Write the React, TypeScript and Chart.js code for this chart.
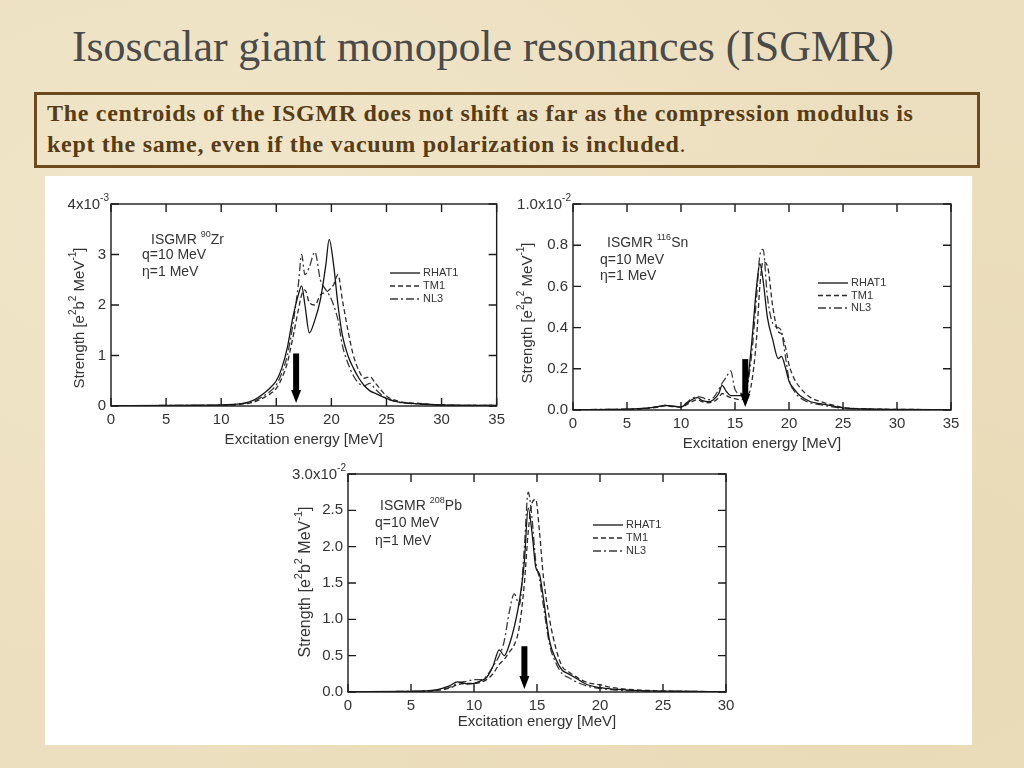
import React, { useEffect, useRef } from 'react';
import { Chart, registerables } from 'chart.js';

Chart.register(...registerables);

// ---------- Data ----------
const seriesNames = ['RHAT1', 'TM1', 'NL3'];

// 90Zr, strength in units of 1e-3
const zrEnergy = [0, 5, 8, 10, 11, 12, 13, 14, 14.5, 15, 15.5, 16, 16.5, 17, 17.3, 17.6, 18, 18.5, 19, 19.5, 19.8, 20.2, 20.6, 21, 21.5, 22, 22.5, 23, 23.5, 24, 25, 26, 28, 30, 35];
const zrRHAT1 = [0.005, 0.01, 0.015, 0.02, 0.03, 0.05, 0.12, 0.27, 0.37, 0.5, 0.75, 1.15, 1.75, 2.2, 2.38, 2.0, 1.45, 1.7, 2.1, 2.8, 3.3, 2.8, 2.0, 1.4, 1.0, 0.75, 0.55, 0.4, 0.3, 0.25, 0.15, 0.08, 0.04, 0.02, 0.01];
const zrTM1 = [0.005, 0.008, 0.01, 0.015, 0.02, 0.04, 0.08, 0.18, 0.25, 0.35, 0.55, 0.85, 1.35, 1.9, 2.2, 2.3, 2.05, 2.0, 2.2, 2.25, 2.3, 2.4, 2.6, 2.1, 1.5, 1.0, 0.7, 0.55, 0.58, 0.45, 0.2, 0.1, 0.05, 0.02, 0.01];
const zrNL3 = [0.005, 0.01, 0.012, 0.02, 0.03, 0.05, 0.1, 0.22, 0.3, 0.42, 0.65, 1.0, 1.6, 2.4, 3.0, 2.6, 2.75, 3.05, 2.5, 2.3, 2.2, 2.0, 1.7, 1.2, 0.85, 0.6, 0.45, 0.4, 0.45, 0.33, 0.15, 0.08, 0.04, 0.02, 0.01];
const zrXTickStep = 5;
const zrYTickStep = 1;

// 116Sn, strength in units of 1e-2
const snEnergy = [0, 5, 7, 8, 8.5, 9, 10, 10.5, 11, 11.5, 12, 12.5, 13, 13.5, 13.8, 14.2, 14.6, 15, 15.5, 16, 16.5, 17, 17.3, 17.6, 18, 18.5, 19, 19.3, 19.7, 20, 20.5, 21, 22, 23, 24, 25, 27, 30, 35];
const snRHAT1 = [0.002, 0.004, 0.01, 0.018, 0.022, 0.02, 0.015, 0.03, 0.05, 0.06, 0.045, 0.04, 0.05, 0.08, 0.12, 0.09, 0.07, 0.07, 0.07, 0.09, 0.3, 0.6, 0.71, 0.63, 0.45, 0.34, 0.25, 0.26, 0.2, 0.14, 0.1, 0.07, 0.04, 0.03, 0.02, 0.01, 0.005, 0.003, 0.002];
const snTM1 = [0.002, 0.003, 0.008, 0.015, 0.02, 0.018, 0.014, 0.025, 0.04, 0.05, 0.04, 0.035, 0.04, 0.06, 0.08, 0.07, 0.06, 0.055, 0.05, 0.06, 0.12, 0.35, 0.6, 0.72, 0.7, 0.5, 0.38, 0.37, 0.3, 0.22, 0.15, 0.11, 0.06, 0.04, 0.025, 0.012, 0.006, 0.003, 0.002];
const snNL3 = [0.002, 0.004, 0.01, 0.018, 0.022, 0.02, 0.016, 0.035, 0.055, 0.065, 0.06, 0.05, 0.06, 0.1, 0.13, 0.16, 0.19, 0.1, 0.08, 0.09, 0.25, 0.55, 0.75, 0.78, 0.55, 0.42, 0.4, 0.38, 0.25, 0.15, 0.09, 0.06, 0.035, 0.025, 0.015, 0.008, 0.004, 0.002, 0.002];
const snXTickStep = 5;
const snYTickStep = 0.2;

// 208Pb, strength in units of 1e-2
const pbEnergy = [0, 4, 6, 7, 8, 8.7, 9.5, 10, 10.5, 11, 11.5, 12, 12.4, 12.8, 13.2, 13.6, 14, 14.3, 14.6, 14.9, 15.2, 15.5, 16, 16.5, 17, 17.5, 18, 19, 20, 21, 22, 24, 26, 30];
const pbRHAT1 = [0.005, 0.008, 0.015, 0.03, 0.08, 0.14, 0.11, 0.12, 0.15, 0.2, 0.35, 0.58, 0.5, 0.65, 0.9, 1.25, 1.8, 2.53, 2.2, 1.72, 1.62, 1.3, 0.7, 0.45, 0.3, 0.25, 0.2, 0.1, 0.06, 0.04, 0.03, 0.015, 0.01, 0.005];
const pbTM1 = [0.004, 0.006, 0.01, 0.02, 0.05, 0.1, 0.12, 0.12, 0.13, 0.17, 0.25, 0.38, 0.45, 0.55, 0.65, 0.9, 1.5, 2.2, 2.6, 2.65, 2.2, 1.6, 1.0, 0.6, 0.35, 0.28, 0.22, 0.13, 0.1, 0.06, 0.04, 0.02, 0.01, 0.005];
const pbNL3 = [0.004, 0.007, 0.012, 0.025, 0.06, 0.12, 0.15, 0.17, 0.17, 0.22, 0.35, 0.5, 0.7, 1.1, 1.35, 1.2, 2.0, 2.75, 2.4, 1.8, 1.55, 1.2, 0.65, 0.4, 0.25, 0.2, 0.15, 0.08, 0.05, 0.03, 0.02, 0.01, 0.008, 0.004];
const pbXTickStep = 5;
const pbYTickStep = 0.5;

// ---------- Styling ----------
const SANS = '"Liberation Sans", Arial, sans-serif';
const TEXT = '#333333';
const INK = '#1c1c1c';
const lineStyles = [
  { color: '#151515', dash: [] as number[], width: 1.3 },
  { color: '#2a2a2a', dash: [5, 3], width: 1.3 },
  { color: '#3a3a3a', dash: [8, 3, 2, 3], width: 1.3 },
];

type Part = [string, boolean];

function richWidth(ctx: CanvasRenderingContext2D, parts: Part[], size: number) {
  let w = 0;
  for (const [t, sup] of parts) {
    ctx.font = `${sup ? Math.round(size * 0.66) : size}px ${SANS}`;
    w += ctx.measureText(t).width;
  }
  return w;
}

function drawRich(ctx: CanvasRenderingContext2D, parts: Part[], x: number, y: number, size: number) {
  let cx = x;
  ctx.textAlign = 'left';
  ctx.textBaseline = 'middle';
  for (const [t, sup] of parts) {
    ctx.font = `${sup ? Math.round(size * 0.66) : size}px ${SANS}`;
    ctx.fillText(t, cx, sup ? y - size * 0.42 : y);
    cx += ctx.measureText(t).width;
  }
}

const decorPlugin = {
  id: 'decor',
  afterDraw(chart: any, _args: any, o: any) {
    const { ctx, chartArea: a, scales } = chart;
    const x = scales.x;
    const y = scales.y;
    ctx.save();
    // frame
    ctx.strokeStyle = INK;
    ctx.lineWidth = 1.4;
    ctx.setLineDash([]);
    ctx.strokeRect(a.left, a.top, a.right - a.left, a.bottom - a.top);
    // inward ticks on four sides
    const L = 8;
    ctx.beginPath();
    x.ticks.forEach((t: any) => {
      const px = x.getPixelForValue(t.value);
      ctx.moveTo(px, a.bottom); ctx.lineTo(px, a.bottom - L);
      ctx.moveTo(px, a.top); ctx.lineTo(px, a.top + L);
    });
    y.ticks.forEach((t: any) => {
      const py = y.getPixelForValue(t.value);
      ctx.moveTo(a.left, py); ctx.lineTo(a.left + L, py);
      ctx.moveTo(a.right, py); ctx.lineTo(a.right - L, py);
    });
    ctx.stroke();

    // centroid arrow
    const ax = x.getPixelForValue(o.arrowX);
    const aTop = y.getPixelForValue(o.arrowTop);
    const aTip = y.getPixelForValue(0) - 3;
    const head = 13;
    ctx.fillStyle = '#000';
    ctx.fillRect(ax - 3, aTop, 6, aTip - head - aTop + 1);
    ctx.beginPath();
    ctx.moveTo(ax - 5, aTip - head);
    ctx.lineTo(ax + 5, aTip - head);
    ctx.lineTo(ax, aTip);
    ctx.closePath();
    ctx.fill();

    ctx.fillStyle = TEXT;
    // scale factor label at top-left
    const sf: Part[] = o.scaleLabel;
    const sfw = richWidth(ctx, sf, 15);
    drawRich(ctx, sf, a.left - 2 - sfw, a.top + 1, 15);

    // annotation
    drawRich(ctx, o.nucleus, a.left + o.anno[0], a.top + o.anno[1], 14);
    drawRich(ctx, [['q=10 MeV', false]], a.left + o.anno[2], a.top + o.anno[3], 14);
    drawRich(ctx, [['\u03b7=1 MeV', false]], a.left + o.anno[2], a.top + o.anno[4], 14);

    // legend
    seriesNames.forEach((name, i) => {
      const ly = a.top + o.legend[1] + i * o.legend[2];
      const lx = a.left + o.legend[0];
      const st = lineStyles[i];
      ctx.strokeStyle = st.color;
      ctx.lineWidth = st.width;
      ctx.setLineDash(st.dash);
      ctx.beginPath();
      ctx.moveTo(lx, ly);
      ctx.lineTo(lx + 30, ly);
      ctx.stroke();
      ctx.setLineDash([]);
      ctx.fillStyle = TEXT;
      ctx.font = `11px ${SANS}`;
      ctx.textAlign = 'left';
      ctx.textBaseline = 'middle';
      ctx.fillText(name, lx + 33, ly);
    });

    // y-axis title with superscripts
    const yt: Part[] = [['Strength [e', false], ['2', true], ['b', false], ['2', true], [' MeV', false], ['-1', true], [']', false]];
    const ys = o.yTitleSize;
    const yw = richWidth(ctx, yt, ys);
    ctx.translate(o.yTitleX, o.yTitleY);
    ctx.rotate(-Math.PI / 2);
    ctx.fillStyle = TEXT;
    drawRich(ctx, yt, -yw / 2, 0, ys);
    ctx.restore();
  },
};

interface PanelCfg {
  left: number; top: number; w: number; h: number;
  yWidth: number; xHeight: number; padTop: number; padRight: number;
  titlePad: number;
  xMax: number; xStep: number; yMax: number; yStep: number; yFixed: number;
  energy: number[]; values: number[][];
  decor: any;
}

function Panel({ cfg }: { cfg: PanelCfg }) {
  const ref = useRef<HTMLCanvasElement>(null);
  useEffect(() => {
    if (!ref.current) return;
    const tickFont = { family: SANS, size: 15 };
    const chart = new Chart(ref.current, {
      type: 'line',
      data: {
        datasets: cfg.values.map((vals, i) => ({
          label: seriesNames[i],
          data: cfg.energy.map((e, j) => ({ x: e, y: vals[j] })),
          borderColor: lineStyles[i].color,
          borderWidth: lineStyles[i].width,
          borderDash: lineStyles[i].dash,
          pointRadius: 0,
          fill: false,
          cubicInterpolationMode: 'monotone' as const,
        })),
      },
      options: {
        animation: false,
        responsive: true,
        maintainAspectRatio: false,
        layout: { padding: { top: cfg.padTop, right: cfg.padRight, left: 0, bottom: 0 } },
        plugins: {
          legend: { display: false },
          tooltip: { enabled: false },
          decor: { ...cfg.decor, yTitleX: cfg.decor.yTitleX - cfg.left, yTitleY: cfg.decor.yTitleY - cfg.top },
        } as any,
        scales: {
          x: {
            type: 'linear',
            min: 0,
            max: cfg.xMax,
            ticks: { stepSize: cfg.xStep, padding: 5, color: TEXT, font: tickFont, maxRotation: 0, autoSkip: false },
            grid: { display: false, drawTicks: false },
            border: { display: false },
            title: { display: true, text: 'Excitation energy [MeV]', color: TEXT, font: { family: SANS, size: 15 }, padding: { top: 0, bottom: cfg.titlePad } },
            afterFit: (s: any) => { s.height = cfg.xHeight; },
          },
          y: {
            type: 'linear',
            min: 0,
            max: cfg.yMax,
            ticks: {
              stepSize: cfg.yStep,
              padding: 5,
              color: TEXT,
              font: tickFont,
              callback: (v: any) => (Math.abs(Number(v) - cfg.yMax) < 1e-6 ? '' : Number(v).toFixed(cfg.yFixed)),
            },
            grid: { display: false, drawTicks: false },
            border: { display: false },
            afterFit: (s: any) => { s.width = cfg.yWidth; },
          },
        },
      },
      plugins: [decorPlugin],
    } as any);
    return () => chart.destroy();
  }, [cfg]);
  return (
    <div style={{ position: 'absolute', left: cfg.left, top: cfg.top, width: cfg.w, height: cfg.h }}>
      <canvas ref={ref} />
    </div>
  );
}

const panels: PanelCfg[] = [
  {
    left: 60, top: 190, w: 450, h: 270,
    yWidth: 51, xHeight: 54, padTop: 14, padRight: 10, titlePad: 11,
    xMax: 35, xStep: zrXTickStep, yMax: 4, yStep: zrYTickStep, yFixed: 0,
    energy: zrEnergy, values: [zrRHAT1, zrTM1, zrNL3],
    decor: {
      arrowX: 16.8, arrowTop: 1.04,
      scaleLabel: [['4x10', false], ['-3', true]],
      nucleus: [['ISGMR ', false], ['90', true], ['Zr', false]],
      anno: [40, 36, 31, 51, 68],
      legend: [279, 69, 13],
      yTitleX: 80, yTitleY: 318, yTitleSize: 15,
    },
  },
  {
    left: 510, top: 190, w: 455, h: 270,
    yWidth: 63, xHeight: 50, padTop: 14, padRight: 14, titlePad: 7,
    xMax: 35, xStep: snXTickStep, yMax: 1.0, yStep: snYTickStep, yFixed: 1,
    energy: snEnergy, values: [snRHAT1, snTM1, snNL3],
    decor: {
      arrowX: 15.95, arrowTop: 0.247,
      scaleLabel: [['1.0x10', false], ['-2', true]],
      nucleus: [['ISGMR ', false], ['116', true], ['Sn', false]],
      anno: [34, 39, 27, 56, 72],
      legend: [245, 79, 12.5],
      yTitleX: 528, yTitleY: 313, yTitleSize: 15,
    },
  },
  {
    left: 285, top: 460, w: 455, h: 275,
    yWidth: 63, xHeight: 43, padTop: 11, padRight: 14, titlePad: 4,
    xMax: 30, xStep: pbXTickStep, yMax: 3.0, yStep: pbYTickStep, yFixed: 1,
    energy: pbEnergy, values: [pbRHAT1, pbTM1, pbNL3],
    decor: {
      arrowX: 14.0, arrowTop: 0.63,
      scaleLabel: [['3.0x10', false], ['-2', true]],
      nucleus: [['ISGMR ', false], ['208', true], ['Pb', false]],
      anno: [32, 32, 27, 49, 67],
      legend: [245, 51, 13],
      yTitleX: 306, yTitleY: 582, yTitleSize: 16,
    },
  },
];

export default function App() {
  const serif = '"Liberation Serif", "Times New Roman", serif';
  return (
    <div
      style={{
        position: 'absolute', left: 0, top: 0, width: 1024, height: 768, overflow: 'hidden',
        background: 'radial-gradient(ellipse at 20% 30%, #f1e6ca 0%, rgba(241,230,202,0) 60%), radial-gradient(ellipse at 85% 80%, #e9dab6 0%, rgba(233,218,182,0) 60%), #ecdfbf',
      }}
    >
      <div style={{ position: 'absolute', left: 72, top: 21, fontFamily: serif, fontSize: 44, lineHeight: '52px', color: '#4a4a4a', whiteSpace: 'nowrap', letterSpacing: '-0.1px' }}>
        Isoscalar giant monopole resonances (ISGMR)
      </div>
      <div style={{ position: 'absolute', left: 34, top: 92, width: 946, height: 76, boxSizing: 'border-box', border: '3px solid #6b4b1d' }} />
      <div style={{ position: 'absolute', left: 47, top: 98, fontFamily: serif, fontWeight: 'bold', fontSize: 24, lineHeight: '31px', letterSpacing: '0.7px', color: '#573c15', whiteSpace: 'nowrap' }}>
        The centroids of the ISGMR does not shift as far as the compression modulus is<br />
        kept the same, even if the vacuum polarization is included<span style={{ fontWeight: 'normal' }}>.</span>
      </div>
      <div style={{ position: 'absolute', left: 45, top: 176, width: 927, height: 569, background: '#ffffff' }} />
      {panels.map((p, i) => (
        <Panel key={i} cfg={p} />
      ))}
    </div>
  );
}
